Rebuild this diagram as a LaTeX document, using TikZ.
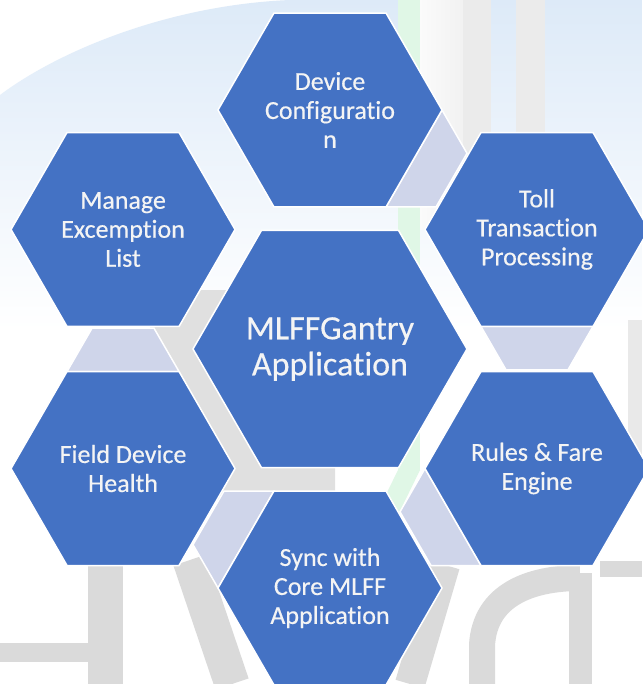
\documentclass[tikz,border=0pt]{standalone}
\usepackage{fontspec}
\setmainfont{Carlito}[Ligatures={NoCommon,NoContextual}, FakeBold=0.4]
\usetikzlibrary{calc}
\definecolor{hexblue}{HTML}{4472C4}
\definecolor{linkfill}{HTML}{CFD5EA}
\definecolor{skyblue}{HTML}{DDEAF8}
\definecolor{wmgray}{HTML}{DADADA}
\definecolor{wmgreen}{HTML}{E0F7E6}
\definecolor{textwhite}{HTML}{F4F4F4}
\newcommand\hexat[2]{%
  \filldraw[hexagon] ($(#1)+(0:#2)$) -- ($(#1)+(60:#2)$) -- ($(#1)+(120:#2)$)
    -- ($(#1)+(180:#2)$) -- ($(#1)+(240:#2)$) -- ($(#1)+(300:#2)$) -- cycle;}
\newcommand\linkpoly[2]{%
  \filldraw[linkshape] ($(#1)+(#2:112)$) -- ($(#1)+(#2:112)+({#2-60}:50)$)
    -- ($(#1)+({#2-60}:112)+(#2:50)$) -- ($(#1)+({#2-60}:112)$) -- cycle;}
\begin{document}
\begin{tikzpicture}[x=1pt,y=1pt,
  hexagon/.style={fill=hexblue, draw=white, line width=1.5pt, line join=miter},
  linkshape/.style={fill=linkfill, draw=white, line width=1.5pt},
  hexlabel/.style={text=textwhite, align=center, inner sep=0pt,
    font=\fontsize{26}{29}\selectfont},
  biglabel/.style={hexlabel, font=\fontsize{34}{36}\selectfont},
  wm/.style={wmgray, line width=#1},
]
\useasboundingbox (0,0) rectangle (642,-684);
\fill[white] (0,0) rectangle (642,-684);
% ---- faded background watermark ----
\shade[top color=skyblue, bottom color=white]
  (0,-95) .. controls (60,-50) and (170,-5) .. (290,0) -- (642,0) -- (642,-330) -- (0,-330) -- cycle;
\shade[left color=white, right color=white!60!wmgray] (400,0) rectangle (470,-230);
\fill[white!45!wmgray] (463,0) rectangle (491,-240);
\fill[white!45!wmgray] (516,0) rectangle (545,-240);
\fill[wmgreen] (398,0) rectangle (420,-470);
\fill[wmgreen] (398,-470) -- (420,-470) -- (398,-515) -- (376,-515) -- cycle;
\fill[wmgray!85] (150,-290) -- (245,-290) -- (335,-468) -- (335,-500) -- (175,-500) -- (150,-440) -- cycle;
\fill[wmgray] (88,-560) rectangle (123,-684);
\fill[wmgray] (0,-643) rectangle (88,-662);
\draw[wm=35pt] (190,-560) -- (232,-684);
\draw[wm=30pt] (445,-565) -- (410,-684);
\draw[wm=26pt] (482,-684) -- (482,-645) .. controls (485,-595) and (530,-578) .. (580,-578);
\fill[wmgray] (569,-573) rectangle (592,-684);
\fill[wmgray] (600,-561) rectangle (642,-577);
\fill[wmgray!60] (628,-320) rectangle (642,-480);
% ---- hexagon centres ----
\coordinate (mid) at (330,-349);
\coordinate (dev) at ($(mid)+(90:239)$);
\coordinate (toll) at ($(mid)+(30:239)$);
\coordinate (rules) at ($(mid)+(-30:239)$);
\coordinate (sync) at ($(mid)+(-90:239)$);
\coordinate (field) at ($(mid)+(-150:239)$);
\coordinate (manage) at ($(mid)+(150:239)$);
% ---- connectors between neighbouring hexagons ----
\linkpoly{dev}{0}
\linkpoly{toll}{-60}
\linkpoly{rules}{-120}
\linkpoly{sync}{-180}
\linkpoly{field}{-240}
% ---- hexagons ----
\hexat{mid}{137}
\hexat{dev}{112}
\hexat{toll}{112}
\hexat{rules}{112}
\hexat{sync}{112}
\hexat{field}{112}
\hexat{manage}{112}
% ---- labels ----
\node[biglabel] (midtext) at (mid) {MLFFGantry\\Applicat\kern0pt ion};
\node[hexlabel] (devtext) at (dev) {Device\\Conf\kern0pt igurat\kern0pt io\\n};
\node[hexlabel] (tolltext) at (toll) {Toll\\Transact\kern0pt ion\\Processing};
\node[hexlabel] (rulestext) at (rules) {Rules \& Fare\\Engine};
\node[hexlabel] (synctext) at (sync) {Sync with\\Core MLFF\\Applicat\kern0pt ion};
\node[hexlabel] (fieldtext) at (field) {Field Device\\Health};
\node[hexlabel] (managetext) at (manage) {Manage\\Excempt\kern0pt ion\\List};
\end{tikzpicture}
\end{document}
